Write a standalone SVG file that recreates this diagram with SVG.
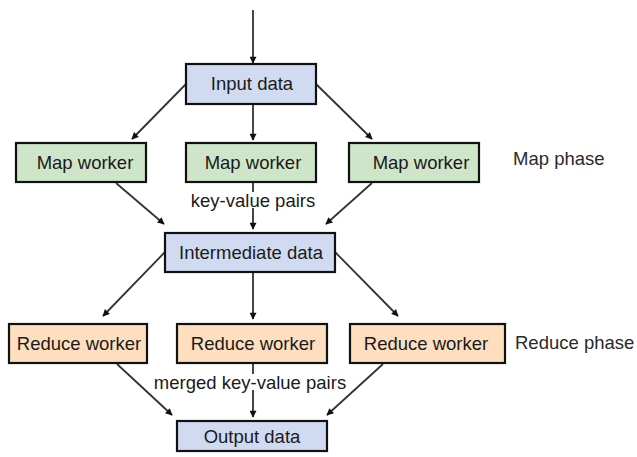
<svg xmlns="http://www.w3.org/2000/svg" width="637" height="457" viewBox="0 0 637 457">
<style>
.box{stroke:#111;stroke-width:2.2}
.blue{fill:#d0daf0}
.green{fill:#cfe5c9}
.orange{fill:#fddfc0}
.t{font-family:"Liberation Sans",Arial,sans-serif;font-size:18.5px;fill:#1a1a1a;text-anchor:middle;dominant-baseline:central}
.lbl{font-family:"Liberation Sans",Arial,sans-serif;font-size:18.5px;fill:#2a2a2a;dominant-baseline:central}
.c{stroke:#333;stroke-width:1.8;fill:none;marker-end:url(#ah)}
</style>
<defs>
<marker id="ah" viewBox="0 0 10 10" refX="9" refY="5" markerWidth="8" markerHeight="7" orient="auto" markerUnits="userSpaceOnUse">
<path d="M0,0 L10,5 L0,10 z" fill="#111"/>
</marker>
</defs>
<rect width="637" height="457" fill="#fff"/>
<g id="connectors">
<line class="c" x1="253" y1="10" x2="253" y2="63"/>
<line class="c" x1="186" y1="84" x2="132" y2="139"/>
<line class="c" x1="253" y1="104" x2="253" y2="140"/>
<line class="c" x1="316" y1="84" x2="372" y2="139"/>
<line class="c" x1="116" y1="183" x2="164" y2="224"/>
<line class="c" x1="253" y1="183" x2="253" y2="229"/>
<line class="c" x1="372" y1="183" x2="326" y2="224"/>
<line class="c" x1="165" y1="252" x2="103" y2="316"/>
<line class="c" x1="253" y1="272" x2="253" y2="319"/>
<line class="c" x1="335" y1="252" x2="398" y2="316"/>
<line class="c" x1="117" y1="364" x2="172" y2="415"/>
<line class="c" x1="253" y1="364" x2="253" y2="417"/>
<line class="c" x1="383" y1="364" x2="327" y2="415"/>
<rect x="188" y="192" width="131" height="16" fill="#fff"/>
<text class="t" x="253" y="200">key-value pairs</text>
<rect x="150" y="374" width="198" height="16" fill="#fff"/>
<text class="t" x="250" y="382">merged key-value pairs</text>
</g>
<g id="input"><rect class="box blue" x="186" y="64" width="130" height="40"/><text class="t" x="252" y="83">Input data</text></g>
<g id="map1"><rect class="box green" x="16" y="143" width="130" height="39"/><text class="t" x="85" y="162">Map worker</text></g>
<g id="map2"><rect class="box green" x="186" y="143" width="130" height="39"/><text class="t" x="253" y="162">Map worker</text></g>
<g id="map3"><rect class="box green" x="349" y="143" width="130" height="39"/><text class="t" x="421" y="162">Map worker</text></g>
<g id="mapphase"><text class="lbl" x="513" y="158">Map phase</text></g>
<g id="intermediate"><rect class="box blue" x="165" y="233" width="170" height="39"/><text class="t" x="251" y="252">Intermediate data</text></g>
<g id="reduce1"><rect class="box orange" x="9" y="324" width="138" height="39"/><text class="t" x="79" y="343">Reduce worker</text></g>
<g id="reduce2"><rect class="box orange" x="177" y="324" width="150" height="39"/><text class="t" x="253" y="343">Reduce worker</text></g>
<g id="reduce3"><rect class="box orange" x="350" y="324" width="155" height="39"/><text class="t" x="426" y="343">Reduce worker</text></g>
<g id="reducephase"><text class="lbl" x="515" y="342">Reduce phase</text></g>
<g id="output"><rect class="box blue" x="177" y="421" width="150" height="30"/><text class="t" x="252" y="436">Output data</text></g>
</svg>
